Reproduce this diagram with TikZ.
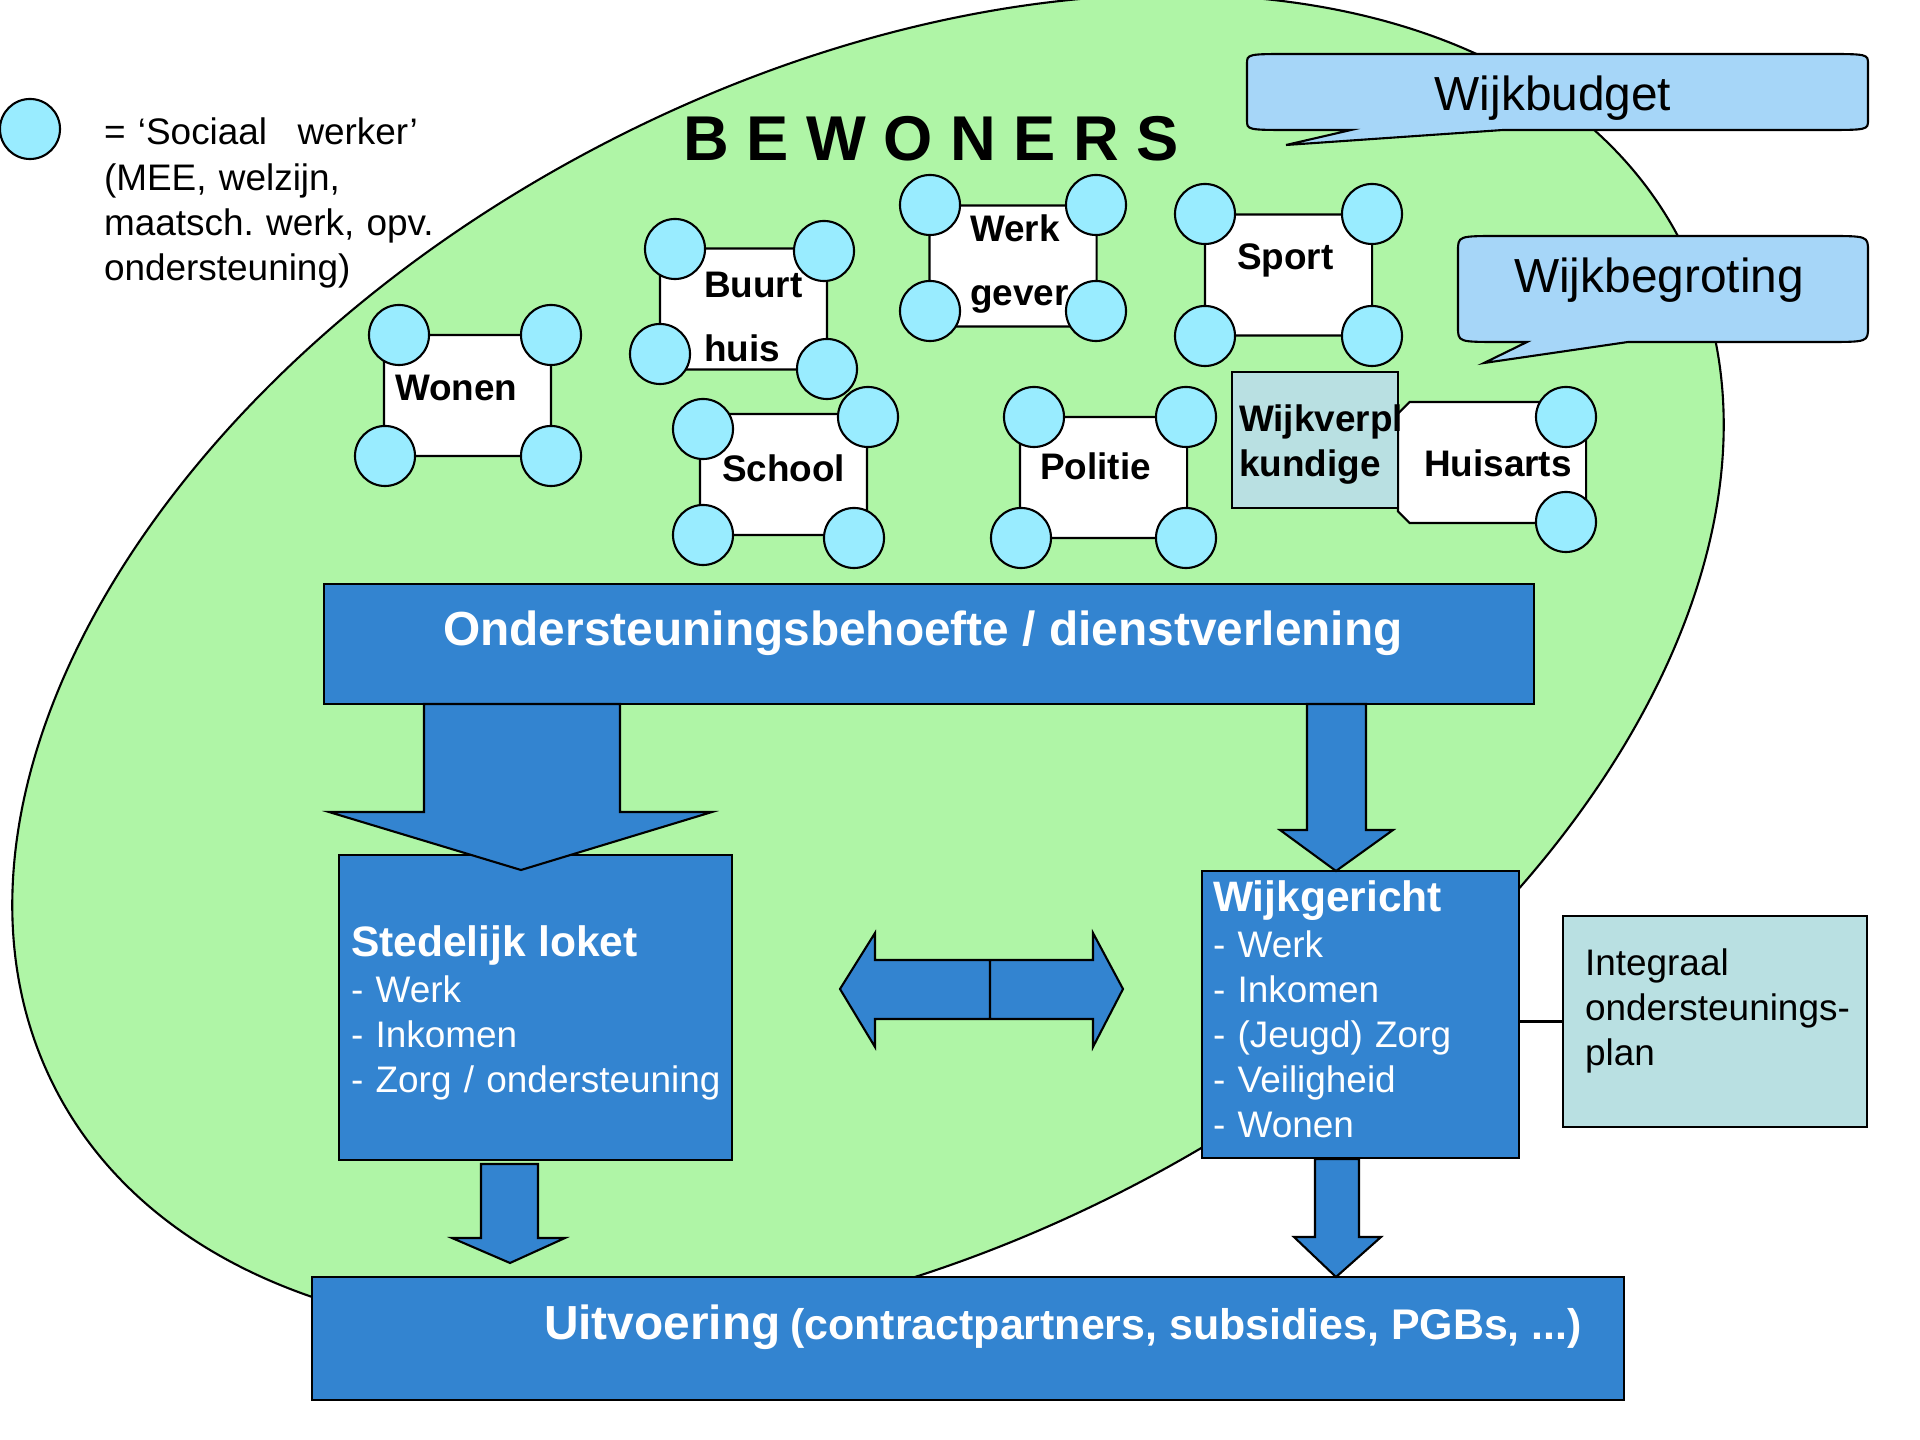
\documentclass[tikz,border=0pt]{standalone}
\usepackage{fontspec}
\setmainfont{Liberation Sans}
\usetikzlibrary{shapes.misc}
\frenchspacing

\definecolor{groen}{RGB}{175,245,166}
\definecolor{werkerblauw}{RGB}{153,236,255}
\definecolor{ballonblauw}{RGB}{166,214,248}
\definecolor{blokblauw}{RGB}{51,132,208}
\definecolor{notitiegrijs}{RGB}{185,224,226}

\newcommand{\gewoon}{\fontsize{10.5}{12.7}\selectfont}
\newcommand{\lijst}{\fontsize{10.5}{12.85}\selectfont}
\newcommand{\kopje}{\fontsize{12.1}{12.85}\selectfont\bfseries}
\newcommand{\groot}{\fontsize{13.6}{15}\selectfont}

\begin{document}
\begin{tikzpicture}[x=0.01cm,y=-0.01cm,line width=0.6pt,
    werker/.style={circle,draw,fill=werkerblauw,minimum size=0.6cm,inner sep=0pt},
    plek/.style={chamfered rectangle,chamfered rectangle xsep=0.2cm,draw,fill=white,
        minimum width=1.67cm,minimum height=1.21cm,inner xsep=0pt},
    plektekst/.style={anchor=base west,inner sep=0pt,text width=1.6cm,align=left,
        font=\gewoon\bfseries},
    blok/.style={rectangle,draw,fill=blokblauw},
    bloktekst/.style={anchor=base west,inner sep=0pt,text width=3.8cm,align=left,
        text=white,font=\lijst},
    notitie/.style={rectangle,draw,fill=notitiegrijs},
    ballon/.style={draw,fill=ballonblauw},
    pijl/.style={draw,fill=blokblauw,line join=miter}]

\useasboundingbox (0,0) rectangle (1920,1440);

% de wijk
\path [draw,fill=groen,rotate around={27.75:(868,665)}]
    (868,665) ellipse [x radius=9.16cm,y radius=5.84cm];

% ballonnen
\path [ballon]
    (1247,64) .. controls (1247,54) .. (1292,54) -- (1823,54) .. controls (1868,54) .. (1868,64)
    -- (1868,120) .. controls (1868,130) .. (1823,130) -- (1503,130) -- (1286,145) -- (1351,130)
    -- (1292,130) .. controls (1247,130) .. (1247,120) -- cycle
;
\path [ballon]
    (1458,251) .. controls (1458,236) .. (1500,236) -- (1826,236) .. controls (1868,236) .. (1868,251)
    -- (1868,327) .. controls (1868,342) .. (1826,342) -- (1628,342) -- (1484,363) -- (1527,342)
    -- (1500,342) .. controls (1458,342) .. (1458,327) -- cycle
;

\node (budget) [anchor=base,font=\groot] at (1553,111) {Wijkbudget};
\node (begroting) [anchor=base,font=\groot] at (1659,293) {Wijkbegroting};

\node (bewoners) [anchor=base west,inner sep=0pt,font=\fontsize{18}{20}\selectfont\bfseries]
    at (682,161) {B E W O N E R S};

% legenda
\node (legenda) [werker] at (30,129) {};
\node (legendatekst) [anchor=base west,inner sep=0pt,text width=4cm,align=left,
    font=\fontsize{10.5}{12.8}\selectfont] at (103,145)
    {= ‘Sociaal\hspace{0.18cm} werker’\\(MEE, welzijn,\\maatsch. werk, opv.\\ondersteuning)};

% plekken in de wijk
\node (wonen) [plek] at (467.5,395.5) {};
\node (buurthuis) [plek] at (743.5,309) {};
\node (werkgever) [plek] at (1013,266) {};
\node (sport) [plek] at (1288.5,275) {};
\node (school) [plek] at (783.5,474.5) {};
\node (politie) [plek] at (1103.5,477.5) {};
\node (huisarts) [plek,minimum width=1.88cm] at (1492,462.5) {};
\node (wijkverpl) [notitie,minimum width=1.66cm,minimum height=1.36cm] at (1315,440) {};

\node (wonentekst) [plektekst] at (394,401) {Wonen};
\node (buurthuistekst) [plektekst] at (703,298) {Buurt\\[5.4pt]huis};
\node (werkgevertekst) [plektekst] at (969,242) {Werk\\[5.4pt]gever};
\node (sporttekst) [plektekst] at (1236,270) {Sport};
\node (schooltekst) [plektekst] at (721,482) {School};
\node (politietekst) [plektekst] at (1039,480) {Politie};
\node (huisartstekst) [plektekst] at (1423,477) {Huisarts};
\node (wijkverpltekst) [plektekst] at (1238,432) {Wijkverpl\\kundige};

% sociaal werkers
\node (wonen1) [werker] at (399,335) {};
\node (wonen2) [werker] at (551,335) {};
\node (wonen3) [werker] at (385,456) {};
\node (wonen4) [werker] at (551,456) {};
\node (buurt1) [werker] at (675,249) {};
\node (buurt2) [werker] at (824,251) {};
\node (buurt3) [werker] at (660,354) {};
\node (buurt4) [werker] at (827,369) {};
\node (werk1) [werker] at (930,205) {};
\node (werk2) [werker] at (1096,205) {};
\node (werk3) [werker] at (930,311) {};
\node (werk4) [werker] at (1096,311) {};
\node (sport1) [werker] at (1205,214) {};
\node (sport2) [werker] at (1372,214) {};
\node (sport3) [werker] at (1205,336) {};
\node (sport4) [werker] at (1372,336) {};
\node (school1) [werker] at (703,429) {};
\node (school2) [werker] at (868,417) {};
\node (school3) [werker] at (703,535) {};
\node (school4) [werker] at (854,538) {};
\node (politie1) [werker] at (1034,417) {};
\node (politie2) [werker] at (1186,417) {};
\node (politie3) [werker] at (1021,538) {};
\node (politie4) [werker] at (1186,538) {};
\node (huisarts2) [werker] at (1566,417) {};
\node (huisarts4) [werker] at (1566,522) {};

% organisatie
\node (ond) [blok,minimum width=12.10cm,minimum height=1.20cm] at (929,644) {};
\node (stad) [blok,minimum width=3.93cm,minimum height=3.05cm] at (535.5,1007.5) {};
\node (wijk) [blok,minimum width=3.17cm,minimum height=2.87cm] at (1360.5,1014.5) {};
\node (integraal) [notitie,minimum width=3.04cm,minimum height=2.11cm] at (1715,1021.5) {};
\node (uitv) [blok,minimum width=13.12cm,minimum height=1.23cm] at (968,1338.5) {};

\node (ondtekst) [anchor=base,text=white,font=\groot\bfseries] at (923,646)
    {Ondersteuningsbehoefte / dienstverlening};
\node (stadtekst) [bloktekst] at (350,957)
    {{\kopje Stedelijk loket}\\- Werk\\- Inkomen\\- Zorg / ondersteuning};
\node (wijktekst) [bloktekst] at (1212,912)
    {{\kopje Wijkgericht}\\- Werk\\- Inkomen\\- (Jeugd) Zorg\\- Veiligheid\\- Wonen};
\node (integraaltekst) [anchor=base west,inner sep=0pt,text width=2.8cm,align=left,
    font=\gewoon] at (1584,976) {Integraal\\ondersteunings-\\plan};
\node (uitvtekst) [anchor=base west,inner sep=0pt,text=white,font=\bfseries] at (543,1340)
    {{\groot Uitvoering} {\fontsize{12.2}{14}\selectfont (contractpartners, subsidies, PGBs, ...)}};

\path [draw,-] (integraal.west) -- (integraal.west -| wijk.east);

% blokpijlen
\path [pijl]
    (424,704) -- (620,704) -- (620,812) -- (712,812) -- (521,870) -- (329,812) -- (424,812) -- cycle
    (1307,704) -- (1366,704) -- (1366,830) -- (1393,830) -- (1336,871) -- (1280,830) -- (1307,830) -- cycle
    (990,960) -- (875,960) -- (875,933) -- (840,989) -- (875,1047) -- (875,1019) -- (990,1019) -- cycle
    (990,960) -- (1093,960) -- (1093,933) -- (1123,989) -- (1093,1047) -- (1093,1019) -- (990,1019) -- cycle
    (481,1164) -- (538,1164) -- (538,1238) -- (565,1238) -- (510,1263) -- (452,1238) -- (481,1238) -- cycle
    (1315,1159) -- (1359,1159) -- (1359,1237) -- (1381,1237) -- (1336,1277) -- (1294,1237) -- (1315,1237) -- cycle
;

\end{tikzpicture}
\end{document}
